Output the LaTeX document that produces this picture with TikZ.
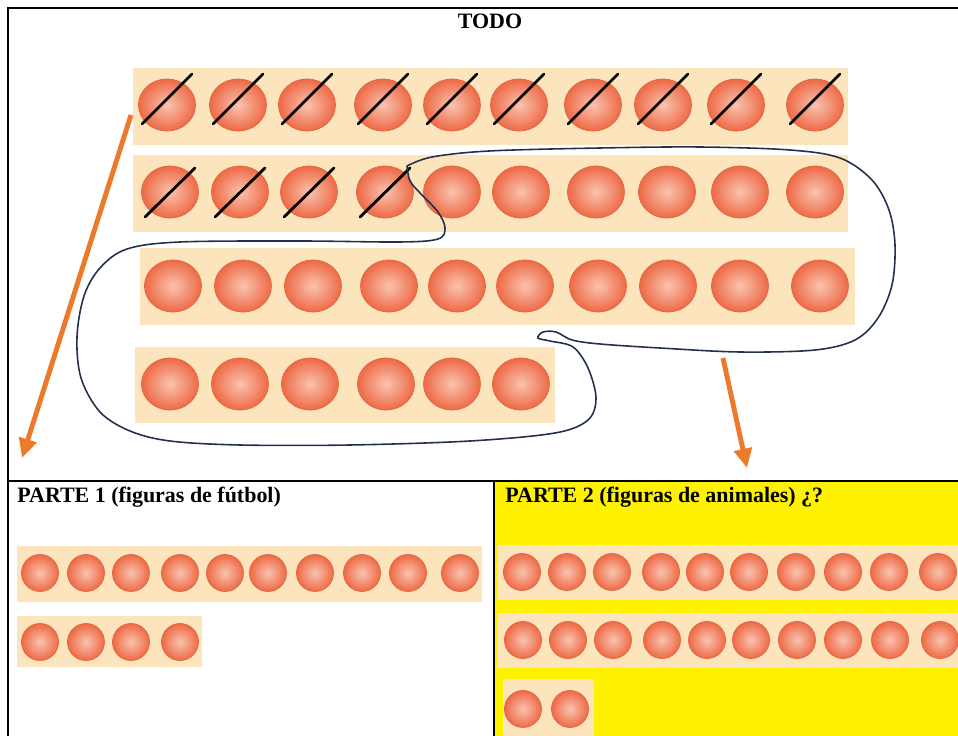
\documentclass[tikz,border=0pt]{standalone}
\usepackage{fontspec}
\setmainfont{Liberation Serif}
\usetikzlibrary{shapes.geometric}
\usetikzlibrary{arrows.meta}
\definecolor{bandcol}{HTML}{FCE4BC}
\definecolor{ballin}{HTML}{F9C3B0}
\definecolor{ballout}{HTML}{EE6A45}
\definecolor{ballrim}{HTML}{E3633F}
\definecolor{arrcol}{HTML}{EC7A2A}
\definecolor{loopcol}{HTML}{22304E}

\begin{document}
\begin{tikzpicture}[x=0.02cm, y=-0.02cm,
		bigball/.style={
			ellipse,
			draw=ballrim,
			line width=0.4pt,
			shading=radial,
			inner color=ballin,
			outer color=ballout,
			minimum width=1.14cm,
			minimum height=1.04cm,
			inner sep=0
		},
		smallball/.style={bigball, circle, minimum size=0.74cm},
		slashline/.style={line width=1.6pt, line cap=round},
		loopline/.style={loopcol, line width=0.9pt},
		bigarrow/.style={arrcol, line width=2.8pt, -{Triangle[length=11pt, width=10pt]}},
		part/.style={font=\fontsize{12.5}{14}\selectfont\bfseries, inner sep=0}]
		\useasboundingbox (0,0) rectangle (958,736);
		\clip (0,0) rectangle (958,736);
		
		% bands of the whole set
		\fill[bandcol] (133,68) rectangle (848,145);
		\fill[bandcol] (133,155) rectangle (848,232);
		\fill[bandcol] (140,248) rectangle (855,325);
		\fill[bandcol] (135,347) rectangle (555,423);
		
		\node[part, anchor=north] (todo) at (490,14) {TODO};
		
		\foreach \x [count=\i] in {167,238,307,383,452,519,593,663,736,815}
			\node[bigball] (ra\i) at (\x,105) {};
		\foreach \x [count=\i] in {170,240,309,385,452,521,596,667,740,815}
			\node[bigball] (rb\i) at (\x,192) {};
		\foreach \x [count=\i] in {173,243,313,389,457,525,598,668,740,820}
			\node[bigball] (rc\i) at (\x,286) {};
		\foreach \x [count=\i] in {170,240,310,386,452,521}
			\node[bigball] (rd\i) at (\x,384) {};
		
		% crossed out ones
		\foreach \i in {1,...,10}
			\draw[slashline] ([shift={(-25,19)}]ra\i.center) -- ([shift={(25,-31)}]ra\i.center);
		\foreach \i in {1,...,4}
			\draw[slashline] ([shift={(-25,25)}]rb\i.center) -- ([shift={(25,-24)}]rb\i.center);
		
		% loop round the rest
		\draw[loopline] plot[smooth, tension=0.55] coordinates {
			(407,166) (432,157) (489,151) (600,148) (700,147) (790,150) (840,158)
			(872,180) (889,210) (895,245) (892,285) (878,318) (855,340) (815,350)
			(740,352) (660,348) (600,344) (572,340) (556,332) (543,332) (538,338)
			(550,341) (573,347) (588,368) (596,398) (588,420) (555,433) (470,441)
			(350,445) (240,445) (170,441) (130,431) (100,412) (81,378) (77,337)
			(84,296) (100,268) (127,249) (180,242) (300,241) (400,242) (438,239)
			(445,228) (438,212) (421,194) (410,181) (407,166)};
		
		\coordinate (fromall) at (131,115);
		\coordinate (topart1) at (22,458);
		\coordinate (fromloop) at (723,358);
		\coordinate (topart2) at (747,468);
		\draw[bigarrow] (fromall) -- (topart1);
		\draw[bigarrow] (fromloop) -- (topart2);
		
		% the two parts
		\fill[yellow] (494,481) rectangle (958,736);
		\fill[bandcol] (17,546) rectangle (482,602);
		\fill[bandcol] (17,616) rectangle (202,667);
		\fill[bandcol] (498,545) rectangle (958,600);
		\fill[bandcol] (498,613) rectangle (958,668);
		\fill[bandcol] (503,679) rectangle (594,736);
		
		\node[part, anchor=west] (parte1) at (17,497) {PARTE 1 (figuras de fútbol)};
		\node[part, anchor=west] (parte2) at (505,497) {PARTE 2 (figuras de animales) ¿?};
		
		\foreach \x [count=\i] in {40,86,131,180,225,268,315,362,408,460}
			\node[smallball] (pa\i) at (\x,573) {};
		\foreach \x [count=\i] in {40,86,131,180}
			\node[smallball] (pb\i) at (\x,642) {};
		\foreach \x [count=\i] in {522,567,612,661,705,749,796,843,889,938}
			\node[smallball] (qa\i) at (\x,572) {};
		\foreach \x [count=\i] in {523,568,613,662,707,751,797,843,890,940}
			\node[smallball] (qb\i) at (\x,640) {};
		\foreach \x [count=\i] in {523,570}
			\node[smallball] (qc\i) at (\x,709) {};
		
		% frame lines
		\draw[line width=0.8pt] (8,736) -- (8,8) -- (958,8);
		\draw[line width=0.8pt] (8,481) -- (958,481);
		\draw[line width=0.8pt] (494,481) -- (494,736);
	\end{tikzpicture}
\end{document}
